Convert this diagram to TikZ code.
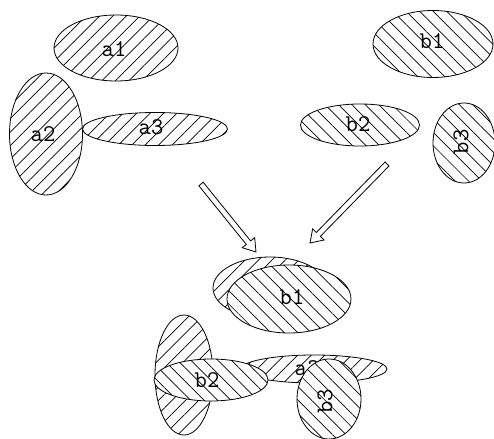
\documentclass[tikz,border=0pt]{standalone}
\usetikzlibrary{shapes.geometric,patterns.meta,calc}
\tikzset{
  blob/.style={ellipse, draw=black, line width=0.8pt, inner sep=0pt, preaction={fill=white}},
  hatchA/.style={blob, pattern={Lines[angle=45,distance=9.5pt,line width=0.7pt]}},
  hatchB/.style={blob, pattern={Lines[angle=-45,distance=9.5pt,line width=0.7pt]}},
  lbl/.style={inner sep=0pt, font=\ttfamily\fontsize{24}{24}\selectfont},
  outl/.style={draw=black, line width=0.8pt, fill=white, line join=miter},
}
\newcommand{\hollowarrow}[2]{%
  \coordinate (#1h) at ($(#2)!12pt!(#1)$);
  \draw[outl] ($(#1)!2.8pt!90:(#2)$) -- ($(#1h)!2.8pt!90:(#2)$) -- ($(#1h)!8pt!90:(#2)$) -- (#2)
     -- ($(#1h)!8pt!-90:(#2)$) -- ($(#1h)!2.8pt!-90:(#2)$) -- ($(#1)!2.8pt!-90:(#2)$) -- cycle;}
\begin{document}
\begin{tikzpicture}[x=1pt,y=-1pt]
\useasboundingbox (0,0) rectangle (494,438);
% top left group
\node[hatchA, minimum width=124pt, minimum height=66pt] (a1) at (116,48) {};
\node[lbl] (a1t) at (114,49) {a1};
\node[hatchA, minimum width=73pt, minimum height=122pt] (a2) at (46,134) {};
\node[lbl] (a2t) at (43,134) {a2};
\node[hatchA, minimum width=145pt, minimum height=33pt] (a3) at (155,129) {};
\node[lbl] (a3t) at (151,127) {a3};
% top right group
\node[hatchB, minimum width=120pt, minimum height=67pt] (b1) at (433,44) {};
\node[lbl] (b1t) at (432,41) {b1};
\node[hatchB, minimum width=119pt, minimum height=42pt] (b2) at (360,125) {};
\node[lbl] (b2t) at (358,124) {b2};
\node[hatchB, minimum width=62pt, minimum height=80pt] (b3) at (464,143) {};
\node[lbl, rotate=90] (b3t) at (461,142) {b3};
% arrows
\coordinate (s1) at (201,184);
\coordinate (t1) at (256,252);
\coordinate (s2) at (387,164);
\coordinate (t2) at (310,243);
\hollowarrow{s1}{t1}
\hollowarrow{s2}{t2}
% bottom merged group
\node[hatchA, minimum width=114pt, minimum height=62pt] (m1) at (270,288) {};
\node[hatchB, minimum width=124pt, minimum height=68pt] (n1) at (289,299) {};
\node[lbl] (n1t) at (292,297) {b1};
\node[hatchA, minimum width=58pt, minimum height=120pt] (m2) at (184,375) {};
\node[hatchA, minimum width=146pt, minimum height=28pt] (m3) at (314,369) {};
\node[lbl] (m3t) at (307,368) {a3};
\node[hatchB, minimum width=114pt, minimum height=42pt] (n2) at (211,380) {};
\node[lbl] (n2t) at (207,380) {b2};
\node[hatchB, minimum width=64pt, minimum height=80pt] (n3) at (329,399) {};
\node[lbl, rotate=90] (n3t) at (325,401) {b3};
\end{tikzpicture}
\end{document}
